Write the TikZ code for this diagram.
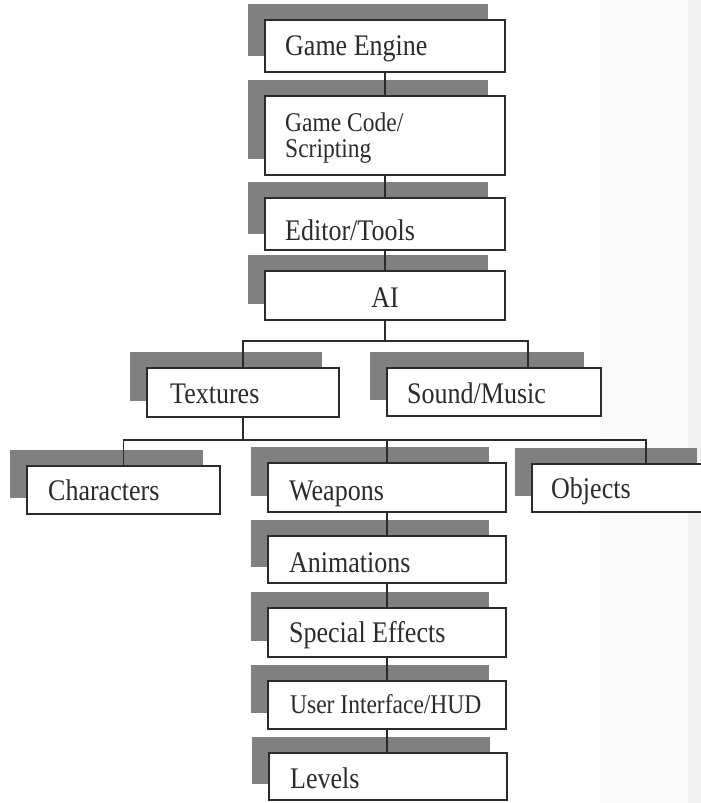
\documentclass[tikz,border=0pt]{standalone}
\usepackage{fontspec}
\setmainfont{Liberation Serif}
\usetikzlibrary{shadows}
\definecolor{ink}{HTML}{2B2B2B}
\definecolor{shade}{HTML}{808080}
\newcommand\tallword[1]{\scalebox{1}[1.15]{#1}}
\tikzset{
  box/.style={draw=ink, line width=1.6pt, fill=white, inner sep=0pt,
    drop shadow={shadow xshift=-17pt, shadow yshift=16pt, fill=shade, opacity=1}},
  lbl/.style={inner sep=0pt, anchor=base west, text=ink, font=\fontsize{26}{30}\selectfont},
  lblsmall/.style={lbl, font=\fontsize{23.5}{27}\selectfont},
  link/.style={draw=ink, line width=1.6pt}
}
\begin{document}
\begin{tikzpicture}[x=1pt, y=-1pt]
\useasboundingbox (0,0) rectangle (701,803);
\clip (0,0) rectangle (701,803);
\fill[white] (0,0) rectangle (701,803);
\fill[black!2] (600,0) rectangle (701,803);
\fill[black!6] (688,0) rectangle (701,803);

% main column
\node[box, minimum width=240pt, minimum height=52pt] (ge) at (385,46) {};
\node[box, minimum width=240pt, minimum height=79pt] (gc) at (385,135.5) {};
\node[box, minimum width=240pt, minimum height=52pt] (et) at (385,224) {};
\node[box, minimum width=240pt, minimum height=49pt] (ai) at (385,295.5) {};

% second tier
\node[box, minimum width=192pt, minimum height=49pt] (tx) at (243,392.5) {};
\node[box, minimum width=214pt, minimum height=48pt] (sm) at (494,392) {};

% third tier
\node[box, minimum width=193pt, minimum height=48pt] (ch) at (123.5,490) {};
\node[box, minimum width=238pt, minimum height=49pt] (wp) at (387,487.5) {};
\node[box, minimum width=182pt, minimum height=48pt] (ob) at (623,488) {};

% lower column
\node[box, minimum width=238pt, minimum height=47pt] (an) at (387,559.5) {};
\node[box, minimum width=238pt, minimum height=49pt] (se) at (387,632.5) {};
\node[box, minimum width=238pt, minimum height=48pt] (ui) at (387,705) {};
\node[box, minimum width=238pt, minimum height=47pt] (lv) at (388,776.5) {};

% labels
\node[lbl] (ge-t) at (285,55) {\tallword{Game Engine}};
\node[lblsmall] (gc-t1) at (285,131) {\tallword{Game Code/}};
\node[lblsmall] (gc-t2) at (285,157) {\tallword{Scripting}};
\node[lbl] (et-t) at (285,240) {\tallword{Editor/Tools}};
\node[lbl, anchor=base] (ai-t) at (385,307) {\tallword{AI}};
\node[lbl] (tx-t) at (170,403) {\tallword{Textures}};
\node[lbl] (sm-t) at (407,403) {\tallword{Sound/Music}};
\node[lbl] (ch-t) at (48,500) {\tallword{Characters}};
\node[lbl] (wp-t) at (289,500) {\tallword{Weapons}};
\node[lbl] (ob-t) at (551,498) {\tallword{Objects}};
\node[lbl] (an-t) at (289,572) {\tallword{Animations}};
\node[lbl] (se-t) at (289,642) {\tallword{Special Effects}};
\node[lblsmall] (ui-t) at (290,713) {\tallword{User Interface/HUD}};
\node[lbl] (lv-t) at (290,788) {\tallword{Levels}};

% connector points
\coordinate (bus1) at (385,341);
\coordinate (bus2) at (243,440);
\coordinate (sm-in) at ([xshift=34pt]sm.north);
\coordinate (ob-in) at ([xshift=23pt]ob.north);

% connectors
\draw[link] (ge.south) -- (gc.north);
\draw[link] (gc.south) -- (et.north);
\draw[link] (et.south) -- (ai.north);
\draw[link] (ai.south) -- (bus1);
\draw[link] (tx.north) |- (bus1) -| (sm-in);
\draw[link] (tx.south) -- (bus2);
\draw[link] (ch.north) |- (bus2) -| (ob-in);
\draw[link] (wp.north) -- (wp.north |- bus2);
\draw[link] (wp.south) -- (an.north);
\draw[link] (an.south) -- (se.north);
\draw[link] (se.south) -- (ui.north);
\draw[link] (ui.south) -- (ui.south |- lv.north);
\end{tikzpicture}
\end{document}
